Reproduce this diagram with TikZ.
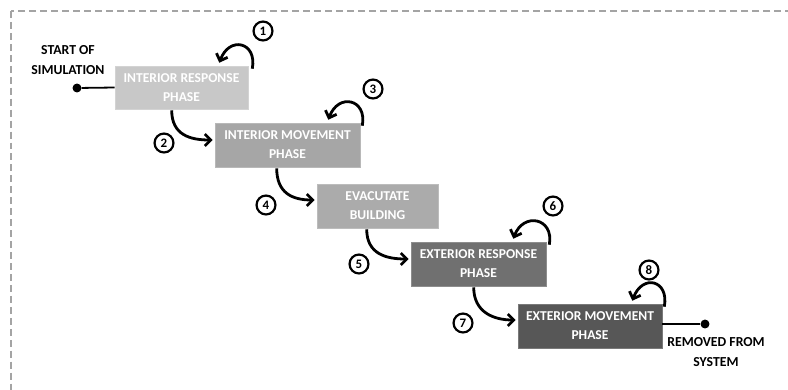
\documentclass[tikz,border=0pt]{standalone}
\usepackage{fontspec}
\setmainfont{Carlito}
\usetikzlibrary{arrows.meta,calc}
\definecolor{c1}{HTML}{C8C8C8}
\definecolor{c2}{HTML}{A6A6A6}
\definecolor{c3}{HTML}{ABABAB}
\definecolor{c4}{HTML}{707070}
\definecolor{c5}{HTML}{575757}
\definecolor{frame}{HTML}{A4A4A4}
\tikzset{
  phase/.style={fill=#1, draw=#1!80!white, line width=0.6pt, inner sep=0pt, text=white,
    font=\fontsize{13.6}{19}\selectfont\bfseries, align=center},
  flow/.style={line width=2.8pt, -{Straight Barb[length=6pt,width=12pt,line width=2.8pt]}},
  num/.style={circle, draw, line width=2.2pt, minimum size=19pt, inner sep=0pt,
    font=\fontsize{13}{13}\selectfont\bfseries},
  lbl/.style={font=\fontsize{13.8}{20}\selectfont\bfseries, align=center, text=black},
  dot/.style={circle, fill=black, minimum size=9pt, inner sep=0pt},
}
\begin{document}
\begin{tikzpicture}[x=1bp,y=-1bp]
\useasboundingbox (0,0) rectangle (788,389);
\begin{scope}
\clip (0,0) rectangle (788,389);
\draw[frame, line width=1.6pt, dash pattern=on 7pt off 4pt] (11,11) rectangle (820,420);
\end{scope}
% boxes
\node[phase=c1, minimum width=133bp, minimum height=43bp] (r1) at (181.5,87.5) {INTERIOR RESPONSE\\PHASE};
\node[phase=c2, minimum width=145bp, minimum height=44bp] (r2) at (287.5,145) {INTERIOR MOVEMENT\\PHASE};
\node[phase=c3, minimum width=121bp, minimum height=44bp] (r3) at (377.5,206) {EVACUTATE\\BUILDING};
\node[phase=c4, minimum width=135bp, minimum height=44bp] (r4) at (478.5,264) {EXTERIOR RESPONSE\\PHASE};
\node[phase=c5, minimum width=144bp, minimum height=44bp] (r5) at (590,326) {EXTERIOR MOVEMENT\\PHASE};
% start / end
\node[dot] (s) at (77,88) {};
\node[lbl] (st) at (68,60) {START OF\\SIMULATION};
\draw[line width=1.8pt] (s) -- (r1.west);
\node[dot] (e) at (705,324) {};
\node[lbl] (et) at (716,352) {REMOVED FROM\\SYSTEM};
\draw[line width=1.8pt] (r5.east |- e) -- (e);
% transitions
\draw[flow] ($(r1.south west)+(57,1)$) .. controls +(0,25) and +(-22,0) .. ($(r2.west)+(-2,-5)$);
\draw[flow] ($(r2.south west)+(62,1)$) .. controls +(0,25) and +(-22,0) .. ($(r3.west)+(-2,-6)$);
\draw[flow] ($(r3.south west)+(50,1)$) .. controls +(0,25) and +(-22,0) .. ($(r4.west)+(-2,-5)$);
\draw[flow] ($(r4.south west)+(63,1)$) .. controls +(0,25) and +(-22,0) .. ($(r5.west)+(-2,-6)$);
% self loops
\draw[flow] ($(r1.north east)+(4,3)$) .. controls +(5,-27) and +(10,-27) .. ($(r1.north east)+(-29,-3)$);
\draw[flow] ($(r2.north east)+(2,3)$) .. controls +(5,-27) and +(10,-27) .. ($(r2.north east)+(-32,-3)$);
\draw[flow] ($(r4.north east)+(3,3)$) .. controls +(5,-27) and +(10,-27) .. ($(r4.north east)+(-33,-3)$);
\draw[flow] ($(r5.north east)+(2,3)$) .. controls +(5,-27) and +(10,-27) .. ($(r5.north east)+(-30,-3)$);
% numbers
\node[num] (n1) at (263,31) {1};
\node[num] (n2) at (164,143) {2};
\node[num] (n3) at (373,89) {3};
\node[num] (n4) at (266,205) {4};
\node[num] (n5) at (359,264) {5};
\node[num] (n6) at (553,206) {6};
\node[num] (n7) at (463,323) {7};
\node[num] (n8) at (649,270) {8};
\end{tikzpicture}
\end{document}
